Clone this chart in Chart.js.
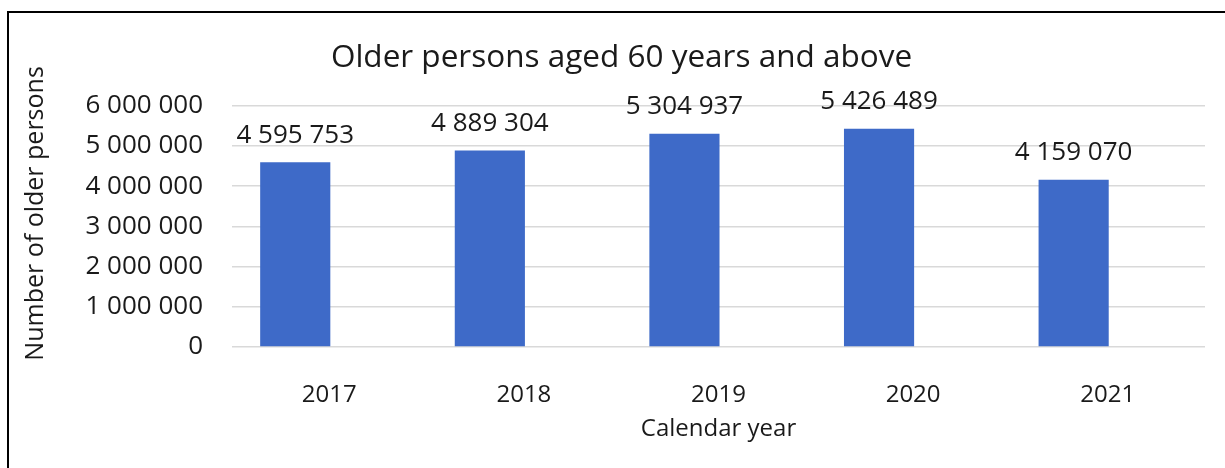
<!DOCTYPE html>
<html lang="en">
<head>
    <meta charset="UTF-8">
    <title>Older persons aged 60 years and above</title>
    <script src="https://cdn.jsdelivr.net/npm/chart.js"></script>
    <style>
        * {
            margin: 0;
            padding: 0;
            box-sizing: border-box;
        }

        body {
            background: #fff;
            width: 1225px;
            height: 468px;
            overflow: hidden;
            position: relative;
        }

        .frame {
            position: absolute;
            left: 7px;
            top: 11px;
            right: -10px;
            bottom: -10px;
            border-top: 2px solid #000;
            border-left: 2px solid #000;
        }

        .chart-box {
            position: absolute;
            left: 0;
            top: 0;
            width: 1225px;
            height: 468px;
        }
    </style>
</head>
<body>
    <div class="frame"></div>
    <div class="chart-box">
        <canvas id="older-persons" width="1225" height="468"></canvas>
    </div>

    <script>
        const years = ['2017', '2018', '2019', '2020', '2021'];
        const olderPersons = [4595753, 4889304, 5304937, 5426489, 4159070];
        // Excel kept an empty second series, which pushes the bars left of the labels
        const emptySeries = [null, null, null, null, null];
        const yTicks = [0, 1000000, 2000000, 3000000, 4000000, 5000000, 6000000];

        const FONT = "'Open Sans', 'DejaVu Sans', sans-serif";
        const INK = '#1a1a1a';

        function spaced(n) {
            return String(n).replace(/\B(?=(\d{3})+(?!\d))/g, ' ');
        }

        // value labels above the bars
        const barLabels = {
            id: 'barLabels',
            afterDatasetsDraw(chart) {
                const ctx = chart.ctx;
                const meta = chart.getDatasetMeta(0);
                ctx.save();
                ctx.font = '26px ' + FONT;
                ctx.fillStyle = INK;
                ctx.textAlign = 'center';
                ctx.textBaseline = 'middle';
                meta.data.forEach((bar, i) => {
                    ctx.fillText(spaced(olderPersons[i]), bar.x, bar.y - 27);
                });
                ctx.restore();
            }
        };

        const ctx = document.getElementById('older-persons').getContext('2d');
        new Chart(ctx, {
            type: 'bar',
            data: {
                labels: years,
                datasets: [{
                    label: 'Older persons',
                    data: olderPersons,
                    backgroundColor: '#3e6ac8',
                    categoryPercentage: 0.7,
                    barPercentage: 1.03
                },
                {
                    label: 'Empty',
                    data: emptySeries,
                    backgroundColor: '#ed7d31',
                    categoryPercentage: 0.7,
                    barPercentage: 1.03
                }]
            },
            options: {
                responsive: false,
                animation: false,
                layout: {
                    // left padding moves the title centre over the plot like Excel does
                    padding: { left: 38, right: 20, top: 0, bottom: 0 }
                },
                plugins: {
                    legend: { display: false },
                    tooltip: { enabled: false },
                    title: {
                        display: true,
                        text: 'Older persons aged 60 years and above',
                        color: INK,
                        font: { family: FONT, size: 31.5, weight: 'normal' },
                        padding: { top: 39, bottom: 29 }
                    }
                },
                scales: {
                    x: {
                        grid: { display: false },
                        border: { display: false },
                        ticks: {
                            color: INK,
                            font: { family: FONT, size: 24 },
                            padding: 26,
                            maxRotation: 0
                        },
                        title: {
                            display: true,
                            text: 'Calendar year',
                            color: INK,
                            font: { family: FONT, size: 24 },
                            padding: { top: 0, bottom: 24 }
                        },
                        afterFit(scale) {
                            scale.height = 121;
                        }
                    },
                    y: {
                        min: 0,
                        max: 6000000,
                        grid: {
                            color: '#d9d9d9',
                            lineWidth: 1.5,
                            drawTicks: false
                        },
                        border: { display: false },
                        afterBuildTicks(scale) {
                            scale.ticks = yTicks.map(v => ({ value: v }));
                        },
                        ticks: {
                            color: INK,
                            font: { family: FONT, size: 26 },
                            padding: 29,
                            callback: v => spaced(v)
                        },
                        title: {
                            display: true,
                            // leading spaces lift the title a little, as in the original
                            text: '    Number of older persons',
                            color: INK,
                            font: { family: FONT, size: 25 },
                            padding: { top: -17, bottom: 0 }
                        },
                        afterFit(scale) {
                            scale.width = 194;
                        }
                    }
                }
            },
            plugins: [barLabels]
        });
    </script>
</body>
</html>
